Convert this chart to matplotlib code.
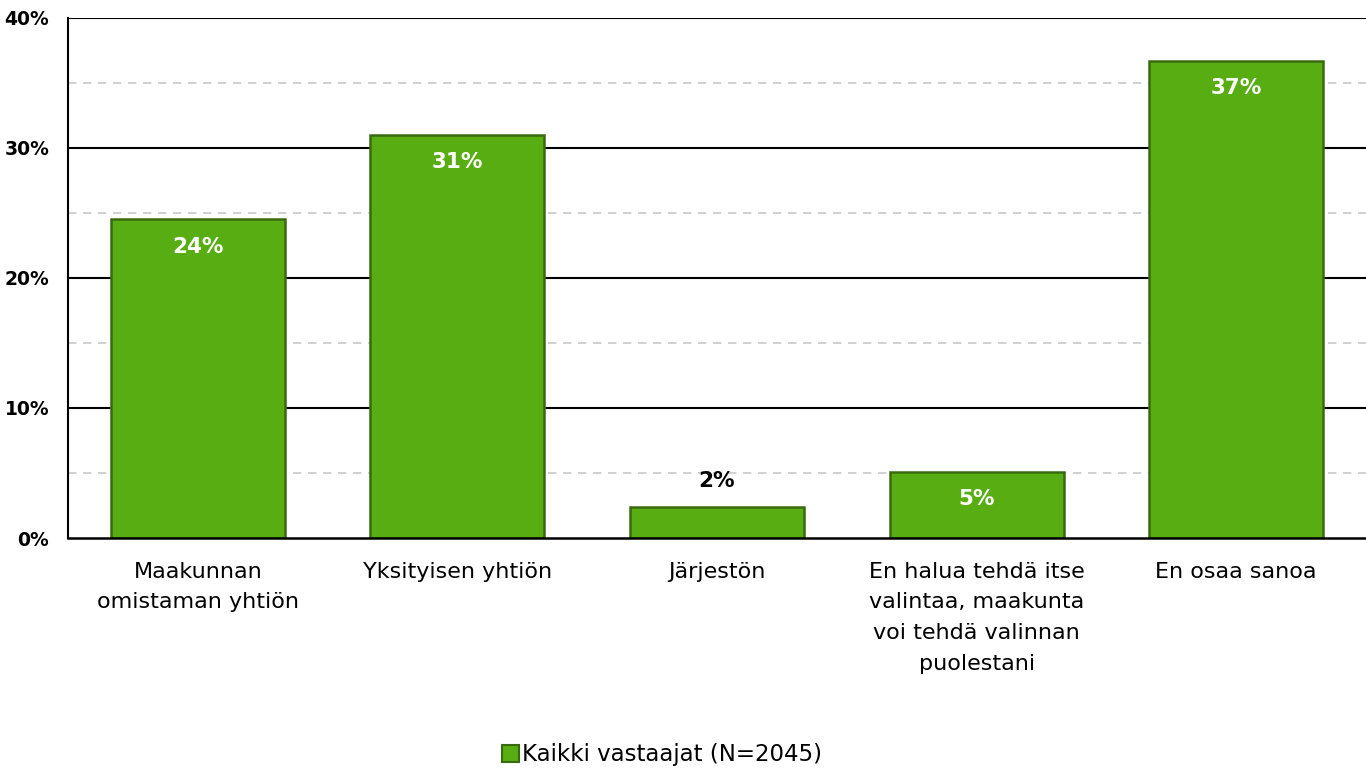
import matplotlib
matplotlib.use("Agg")
import matplotlib.pyplot as plt
from matplotlib.patches import Patch

categories = ["Maakunnan\nomistaman yhtiön", "Yksityisen yhtiön", "Järjestön",
              "En halua tehdä itse\nvalintaa, maakunta\nvoi tehdä valinnan\npuolestani",
              "En osaa sanoa"]
values = [24.5, 31.0, 2.4, 5.1, 36.7]
labels = ["24%", "31%", "2%", "5%", "37%"]
series_name = "Kaikki vastaajat (N=2045)"
yticks = [0, 10, 20, 30, 40]
ytick_labels = ["0%", "10%", "20%", "30%", "40%"]

plt.rcParams['font.family'] = ['DejaVu Sans']
face = '#57AD11'
edge = '#386B0F'

fig = plt.figure(figsize=(13.66, 7.71), dpi=100)
ax = fig.add_axes([68/1366, 1-538/771, 1-68/1366, 520/771])

x = range(len(categories))
ax.bar(x, values, width=0.67, color=face, edgecolor=edge, linewidth=1.8, zorder=3)

ax.set_xlim(-0.5, 4.5)
ax.set_ylim(0, 40)
for y in [5, 15, 25, 35]:
    ax.axhline(y, color='#c8c8c8', linestyle=(0, (5, 4)), linewidth=1.2, zorder=1)
for y in [10, 20, 30, 40]:
    ax.axhline(y, color='black', linewidth=1.5, zorder=1)

ax.set_yticks(yticks)
ax.set_yticklabels(ytick_labels, fontsize=13.5, fontweight='bold')
ax.tick_params(axis='y', length=0, pad=13.5)

ax.set_xticks(list(x))
ax.set_xticklabels(categories, fontsize=16, linespacing=1.68, va='top')
ax.tick_params(axis='x', length=0, pad=17)

for s in ['top', 'right']:
    ax.spines[s].set_visible(False)
ax.spines['left'].set_linewidth(1.5)
ax.spines['bottom'].set_linewidth(1.8)
ax.spines['bottom'].set_zorder(4)

for i, (v, lab) in enumerate(zip(values, labels)):
    if v < 4:
        ax.text(i, v + 2.0, lab, ha='center', va='center', fontsize=15.5,
                fontweight='bold', color='black', zorder=5)
    else:
        ax.text(i, v - 2.1, lab, ha='center', va='center', fontsize=15.5,
                fontweight='bold', color='white', zorder=5)

handles = [Patch(facecolor=face, edgecolor=edge, linewidth=1.5, label=series_name)]
fig.legend(handles=handles, loc='center', bbox_to_anchor=(662/1366, 1-755/771),
           frameon=False, fontsize=16.5, handlelength=0.75, handleheight=0.75,
           handletextpad=0.15)

fig.savefig("out.png", dpi=100)
